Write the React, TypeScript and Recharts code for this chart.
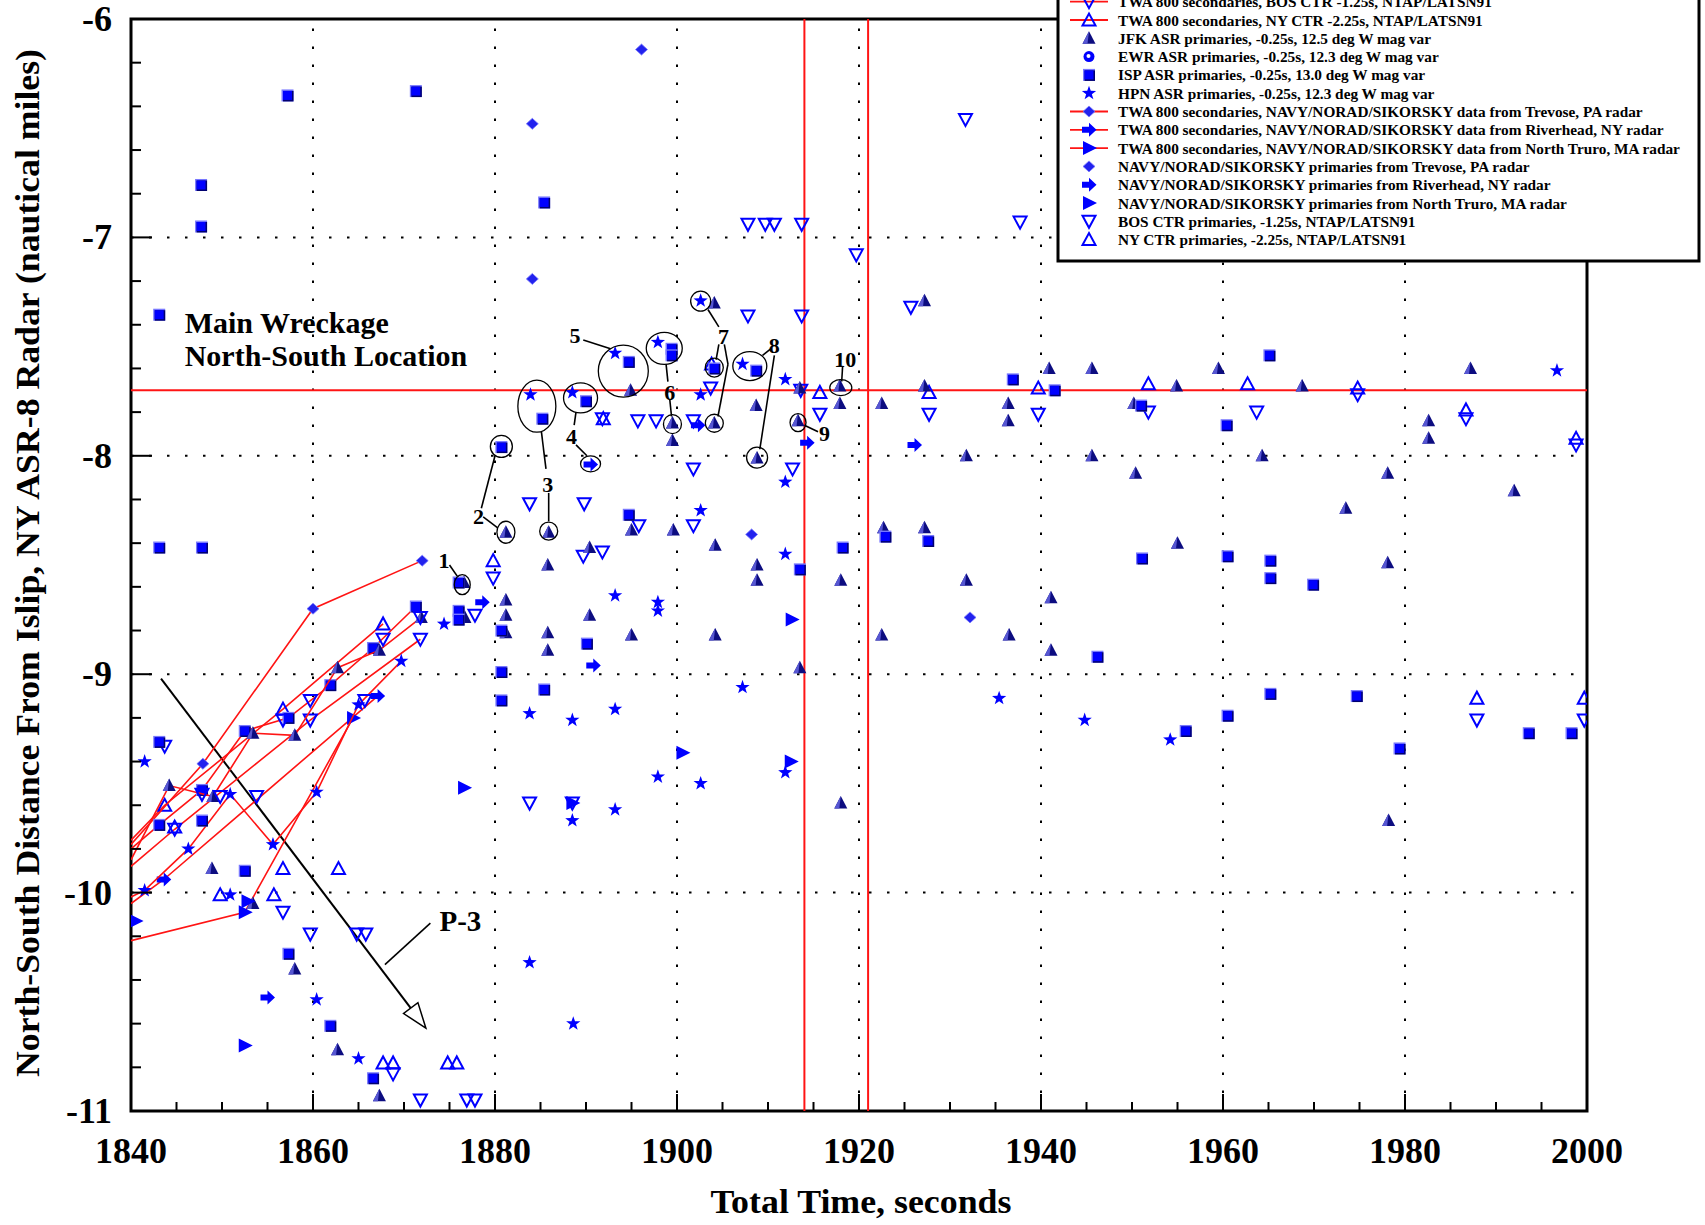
import React from 'react';
import { ScatterChart, Scatter, XAxis, YAxis, ReferenceLine, ReferenceArea } from 'recharts';

const W = 1705;
const H = 1225;
const SERIF = "'Liberation Serif', 'Times New Roman', Times, serif";
const BLUE = '#0000ff';
const RED = '#ff1414';

// axes
const xMajor = [1840, 1860, 1880, 1900, 1920, 1940, 1960, 1980, 2000];
const yMajor = [-11, -10, -9, -8, -7, -6];
const xTicks = Array.from({ length: 33 }, (_, i) => 1840 + i * 5);
const yTicks = Array.from({ length: 26 }, (_, i) => Math.round((-11 + i * 0.2) * 10) / 10);

// red reference lines (time of events, wreckage N-S location)
const redTimes = [1914.0, 1921.0];
const wreckageNS = -7.7;

// primaries: [total time s, N-S distance nm]
const jfkPrimaries: [number, number][] = [
  [1848.9, -9.89], [1853.4, -10.05], [1858.0, -10.35], [1862.7, -10.72], [1867.3, -10.93],
  [1876.6, -8.58], [1876.7, -8.74], [1881.2, -8.35], [1881.2, -8.66], [1881.2, -8.73], [1881.2, -8.81],
  [1885.8, -8.5], [1885.8, -8.81], [1885.8, -8.89], [1885.9, -8.35],
  [1890.4, -8.42], [1890.4, -8.73],
  [1894.9, -7.7], [1895.0, -8.34], [1895.0, -8.82],
  [1899.5, -7.85], [1899.5, -7.93], [1899.6, -8.34],
  [1904.1, -7.3], [1904.1, -7.85], [1904.2, -8.41], [1904.2, -8.82],
  [1908.7, -7.77], [1908.8, -8.01], [1908.8, -8.5], [1908.8, -8.57],
  [1913.3, -7.84], [1913.5, -7.69], [1913.5, -8.97],
  [1917.9, -7.68], [1917.9, -7.76], [1918.0, -8.57], [1918.0, -9.59],
  [1922.5, -7.76], [1922.7, -8.33], [1922.5, -8.82],
  [1927.2, -7.29], [1927.2, -7.68], [1927.2, -8.33],
  [1931.8, -8.0], [1931.8, -8.57],
  [1936.4, -7.76], [1936.4, -7.84], [1936.5, -8.82],
  [1940.9, -7.6], [1941.1, -8.65], [1941.1, -8.89],
  [1945.6, -7.6], [1945.6, -8.0],
  [1950.2, -7.76], [1950.4, -8.08],
  [1954.9, -7.68], [1955.0, -8.4],
  [1959.5, -7.6], [1964.3, -8.0], [1968.7, -7.68], [1973.5, -8.24],
  [1978.1, -8.08], [1978.1, -8.49], [1978.2, -9.67],
  [1982.6, -7.84], [1982.6, -7.92], [1987.2, -7.6], [1992.0, -8.16],
];

const ispPrimaries: [number, number][] = [
  [1843.1, -8.42], [1847.8, -8.42], [1843.1, -9.31], [1847.8, -9.67], [1852.5, -9.9],
  [1857.3, -10.28], [1861.9, -10.61], [1866.6, -10.85],
  [1847.7, -6.76], [1847.7, -6.95], [1857.2, -6.35], [1871.3, -6.33], [1885.4, -6.84],
  [1876.0, -8.58], [1876.0, -8.71], [1876.0, -8.75],
  [1880.7, -7.96], [1880.7, -8.8], [1880.7, -8.99], [1880.7, -9.12],
  [1885.2, -7.83], [1885.4, -9.07], [1890.0, -7.75], [1890.1, -8.86],
  [1894.7, -7.57], [1894.7, -8.27], [1899.4, -7.51], [1899.4, -7.54],
  [1904.1, -7.6], [1908.7, -7.61], [1913.5, -8.52], [1918.2, -8.42],
  [1922.9, -8.37], [1927.6, -8.39], [1936.9, -7.65], [1941.5, -7.7],
  [1946.2, -8.92], [1951.0, -7.77], [1951.1, -8.47], [1955.9, -9.26],
  [1960.4, -7.86], [1960.5, -8.46], [1960.5, -9.19],
  [1965.1, -7.54], [1965.2, -8.48], [1965.2, -8.56], [1965.2, -9.09],
  [1969.9, -8.59], [1974.7, -9.1], [1979.4, -9.34], [1993.6, -9.27], [1998.3, -9.27],
];

const hpnPrimaries: [number, number][] = [
  [1841.5, -9.4], [1850.9, -10.01], [1860.4, -10.49], [1865.0, -10.76], [1874.4, -8.77],
  [1883.8, -9.18], [1883.8, -10.32], [1883.9, -7.72],
  [1888.5, -7.71], [1888.5, -9.21], [1888.5, -9.67], [1888.6, -10.6],
  [1893.2, -7.53], [1893.2, -8.64], [1893.2, -9.16], [1893.2, -9.62],
  [1897.9, -7.48], [1897.9, -8.67], [1897.9, -8.71], [1897.9, -9.47],
  [1902.6, -7.29], [1902.6, -7.72], [1902.6, -8.25], [1902.6, -9.5],
  [1907.2, -7.58], [1907.2, -9.06],
  [1911.9, -7.65], [1911.9, -8.12], [1911.9, -8.45], [1911.9, -9.45],
  [1935.4, -9.11], [1944.8, -9.21], [1954.2, -9.3], [1996.7, -7.61],
];

const trevosePrimaries: [number, number][] = [
  [1884.1, -6.48], [1884.1, -7.19], [1896.1, -6.14], [1908.2, -8.36], [1932.2, -8.74],
];

const riverheadPrimaries: [number, number][] = [
  [1855.0, -10.48], [1878.6, -8.67], [1890.5, -8.04], [1890.8, -8.96],
  [1902.3, -7.86], [1914.3, -7.94], [1926.1, -7.95],
];

const truroPrimaries: [number, number][] = [
  [1840.5, -10.13], [1852.5, -10.7], [1852.8, -10.04], [1876.6, -9.52], [1888.5, -9.59],
  [1900.6, -9.36], [1912.5, -9.4], [1912.6, -8.75],
];

const bosPrimaries: [number, number][] = [
  [1843.7, -9.33], [1847.8, -9.55], [1849.8, -9.56], [1853.8, -9.56], [1856.7, -9.21],
  [1859.7, -9.12], [1865.7, -9.12], [1867.7, -8.84], [1871.8, -8.74],
  [1856.7, -10.09], [1859.7, -10.19], [1864.8, -10.19], [1865.8, -10.19],
  [1868.8, -10.83], [1871.8, -10.95], [1876.9, -10.95], [1877.8, -10.95],
  [1877.8, -8.73], [1879.8, -8.56], [1883.8, -8.22], [1883.8, -9.59], [1888.5, -9.59],
  [1889.7, -8.46], [1889.8, -8.22], [1891.8, -7.83], [1891.8, -8.44],
  [1895.7, -7.84], [1895.8, -8.32], [1897.7, -7.84],
  [1901.8, -7.84], [1901.8, -8.06], [1901.8, -8.32], [1903.7, -7.69],
  [1907.8, -6.94], [1907.8, -7.36], [1909.7, -6.94], [1910.7, -6.94],
  [1912.7, -8.06], [1913.6, -7.7], [1913.7, -6.94], [1913.7, -7.36],
  [1915.7, -7.81], [1919.7, -7.08], [1925.7, -7.32], [1927.7, -7.81],
  [1931.7, -6.46], [1937.7, -6.93], [1939.7, -7.81], [1951.8, -7.8],
  [1963.7, -7.8], [1974.8, -7.72], [1986.7, -7.83], [1987.9, -9.21],
  [1998.8, -7.95], [1999.7, -9.21],
];

const nyPrimaries: [number, number][] = [
  [1844.8, -9.7], [1849.8, -10.01], [1855.7, -10.01], [1856.7, -9.89], [1862.8, -9.89],
  [1867.7, -10.78], [1868.8, -10.78], [1874.8, -10.78], [1875.8, -10.78],
  [1879.8, -8.48], [1891.9, -7.83], [1903.8, -7.58], [1915.7, -7.71],
  [1927.7, -7.71], [1939.7, -7.69], [1951.8, -7.67], [1962.7, -7.67],
  [1974.8, -7.69], [1986.7, -7.79], [1987.9, -9.11], [1998.8, -7.92], [1999.7, -9.11],
];

// TWA 800 secondary tracks (first point is where the track leaves the left frame)
const trevoseTrack: [number, number][] = [[1840, -9.78], [1847.9, -9.41], [1860.0, -8.7], [1872.0, -8.48]];
const ispTrack: [number, number][] = [
  [1840, -9.8], [1843.1, -9.69], [1847.8, -9.53], [1852.5, -9.26], [1857.3, -9.2],
  [1861.9, -9.05], [1866.6, -8.88], [1871.3, -8.69],
];
const jfkTrack: [number, number][] = [
  [1840, -9.85], [1844.2, -9.51], [1849.0, -9.56], [1853.4, -9.27], [1858.0, -9.28],
  [1862.7, -8.97], [1867.3, -8.89], [1871.9, -8.74],
];
const nyTrack: [number, number][] = [[1840, -9.76], [1843.7, -9.6], [1856.7, -9.16], [1867.7, -8.77]];
const bosTrack: [number, number][] = [[1840, -9.88], [1844.8, -9.71], [1859.7, -9.21], [1871.8, -8.84]];
const hpnTrack: [number, number][] = [
  [1840, -10.02], [1841.5, -9.99], [1846.3, -9.8], [1850.9, -9.55], [1855.6, -9.78],
  [1860.4, -9.54], [1865.0, -9.14], [1869.7, -8.94],
];
const riverheadTrack: [number, number][] = [[1840, -10.05], [1843.6, -9.94], [1867.1, -9.1]];
const truroTrack: [number, number][] = [[1840, -10.22], [1852.5, -10.09], [1864.4, -9.2]];

// annotations
const ringMarks = [
  { t: 1876.4, v: -8.59, rx: 8, ry: 10 },
  { t: 1880.7, v: -7.957, rx: 11, ry: 11 },
  { t: 1881.2, v: -8.35, rx: 9, ry: 11 },
  { t: 1884.6, v: -7.773, rx: 19, ry: 26 },
  { t: 1885.9, v: -8.345, rx: 9, ry: 9 },
  { t: 1889.4, v: -7.735, rx: 17, ry: 15 },
  { t: 1890.5, v: -8.037, rx: 10, ry: 8 },
  { t: 1894.1, v: -7.612, rx: 25, ry: 26 },
  { t: 1898.6, v: -7.508, rx: 18, ry: 16 },
  { t: 1899.5, v: -7.855, rx: 9, ry: 9.5 },
  { t: 1902.6, v: -7.292, rx: 10, ry: 10 },
  { t: 1904.1, v: -7.596, rx: 9, ry: 9.5 },
  { t: 1904.1, v: -7.851, rx: 9, ry: 9 },
  { t: 1908.0, v: -7.589, rx: 17, ry: 14.5 },
  { t: 1908.8, v: -8.008, rx: 10.5, ry: 10.5 },
  { t: 1913.3, v: -7.848, rx: 8, ry: 9 },
  { t: 1918.0, v: -7.688, rx: 11, ry: 8 },
];

const leaders: [number, number, number, number][] = [
  [1875.0, -8.5, 1876.0, -8.56],
  [1878.5, -8.24, 1880.0, -8.0],
  [1878.7, -8.28, 1880.3, -8.33],
  [1885.1, -7.89, 1885.6, -8.06],
  [1885.9, -8.17, 1885.9, -8.3],
  [1888.9, -7.8, 1888.7, -7.86],
  [1888.9, -7.95, 1890.1, -8.0],
  [1889.7, -7.47, 1892.7, -7.51],
  [1898.8, -7.58, 1899.0, -7.66],
  [1899.2, -7.74, 1899.4, -7.82],
  [1903.4, -7.33, 1904.6, -7.41],
  [1904.6, -7.49, 1904.3, -7.56],
  [1905.2, -7.49, 1905.6, -7.58],
  [1905.6, -7.58, 1904.5, -7.82],
  [1909.4, -7.54, 1910.3, -7.51],
  [1910.7, -7.54, 1909.1, -7.97],
  [1914.0, -7.86, 1915.5, -7.89],
  [1918.2, -7.59, 1918.1, -7.66],
  [1867.9, -10.33, 1872.9, -10.14],
];

const numberLabels = [
  { t: 1874.4, v: -8.48, text: '1' },
  { t: 1878.2, v: -8.28, text: '2' },
  { t: 1885.8, v: -8.13, text: '3' },
  { t: 1888.4, v: -7.91, text: '4' },
  { t: 1888.8, v: -7.45, text: '5' },
  { t: 1899.2, v: -7.71, text: '6' },
  { t: 1905.1, v: -7.455, text: '7' },
  { t: 1910.7, v: -7.497, text: '8' },
  { t: 1916.2, v: -7.9, text: '9' },
  { t: 1918.5, v: -7.558, text: '10' },
];

const p3Label = [{ t: 1876.2, v: -10.13, text: 'P-3' }];
const p3Arrow = [{ x: 1843.3, y: -9.02 }, { x: 1872.4, y: -10.62 }];
const wreckageKey = [{ t: 1843.1, v: -7.354 }];
const wreckageText = [
  { t: 1845.9, v: -7.389, text: 'Main Wreckage' },
  { t: 1845.9, v: -7.542, text: 'North-South Location' },
];

type Kind = 'tri' | 'square' | 'star' | 'diamond' | 'arrow' | 'rtri' | 'dtri' | 'utri' | 'circle';

const legendRows: { label: string; kind: Kind; line: boolean }[] = [
  { label: 'TWA 800 secondaries, BOS CTR -1.25s, NTAP/LATSN91', kind: 'dtri', line: true },
  { label: 'TWA 800 secondaries, NY CTR -2.25s, NTAP/LATSN91', kind: 'utri', line: true },
  { label: 'JFK ASR primaries, -0.25s, 12.5 deg W mag var', kind: 'tri', line: false },
  { label: 'EWR ASR primaries, -0.25s, 12.3 deg W mag var', kind: 'circle', line: false },
  { label: 'ISP ASR primaries, -0.25s, 13.0 deg W mag var', kind: 'square', line: false },
  { label: 'HPN ASR primaries, -0.25s, 12.3 deg W mag var', kind: 'star', line: false },
  { label: 'TWA 800 secondaries, NAVY/NORAD/SIKORSKY data from Trevose, PA radar', kind: 'diamond', line: true },
  { label: 'TWA 800 secondaries, NAVY/NORAD/SIKORSKY data from Riverhead, NY radar', kind: 'arrow', line: true },
  { label: 'TWA 800 secondaries, NAVY/NORAD/SIKORSKY data from North Truro, MA radar', kind: 'rtri', line: true },
  { label: 'NAVY/NORAD/SIKORSKY primaries from Trevose, PA radar', kind: 'diamond', line: false },
  { label: 'NAVY/NORAD/SIKORSKY primaries from Riverhead, NY radar', kind: 'arrow', line: false },
  { label: 'NAVY/NORAD/SIKORSKY primaries from North Truro, MA radar', kind: 'rtri', line: false },
  { label: 'BOS CTR primaries, -1.25s, NTAP/LATSN91', kind: 'dtri', line: false },
  { label: 'NY CTR primaries, -2.25s, NTAP/LATSN91', kind: 'utri', line: false },
];

const toPts = (a: [number, number][]) => a.map(([t, v]) => ({ t, v }));

function starPoints(cx: number, cy: number, R: number, r: number) {
  const pts: string[] = [];
  for (let i = 0; i < 10; i++) {
    const a = -Math.PI / 2 + (i * Math.PI) / 5;
    const rad = i % 2 === 0 ? R : r;
    pts.push(`${cx + rad * Math.cos(a)},${cy + rad * Math.sin(a)}`);
  }
  return pts.join(' ');
}

const Marker = ({ kind, cx, cy }: { kind: Kind; cx: number; cy: number }) => {
  switch (kind) {
    case 'tri':
      return (
        <g>
          <polygon points={`${cx},${cy - 7} ${cx - 6.5},${cy + 5.5} ${cx + 6.5},${cy + 5.5}`} fill="#0c0c80" />
          <polygon points={`${cx},${cy - 7} ${cx - 6.5},${cy + 5.5} ${cx - 1.5},${cy + 5.5}`} fill="#5656d2" />
        </g>
      );
    case 'square':
      return (
        <g>
          <rect x={cx - 6} y={cy - 6} width={12} height={12} fill="#7878ff" />
          <rect x={cx - 4.5} y={cy - 4.5} width={10.5} height={10.5} fill="#00006e" />
          <rect x={cx - 4.5} y={cy - 4.5} width={9} height={9} fill={BLUE} />
        </g>
      );
    case 'star':
      return <polygon points={starPoints(cx, cy, 7.5, 3)} fill={BLUE} />;
    case 'diamond':
      return <polygon points={`${cx},${cy - 5.5} ${cx + 6},${cy} ${cx},${cy + 5.5} ${cx - 6},${cy}`} fill="#2222ee" stroke="#7a7aff" strokeWidth={0.8} />;
    case 'arrow':
      return (
        <polygon
          points={`${cx - 7},${cy - 3} ${cx},${cy - 3} ${cx},${cy - 7} ${cx + 7.5},${cy} ${cx},${cy + 7} ${cx},${cy + 3} ${cx - 7},${cy + 3}`}
          fill={BLUE}
        />
      );
    case 'rtri':
      return <polygon points={`${cx - 6},${cy - 7} ${cx + 8},${cy} ${cx - 6},${cy + 7}`} fill={BLUE} />;
    case 'dtri':
      return <polygon points={`${cx - 6.5},${cy - 5.5} ${cx + 6.5},${cy - 5.5} ${cx},${cy + 6.5}`} fill="none" stroke={BLUE} strokeWidth={2} />;
    case 'utri':
      return <polygon points={`${cx - 6.5},${cy + 5.5} ${cx + 6.5},${cy + 5.5} ${cx},${cy - 6.5}`} fill="none" stroke={BLUE} strokeWidth={2} />;
    case 'circle':
      return (
        <g>
          <circle cx={cx} cy={cy} r={5.5} fill={BLUE} />
          <circle cx={cx - 0.5} cy={cy - 0.5} r={2} fill="#fff" />
        </g>
      );
    default:
      return null;
  }
};

const XTick = (p: any) => {
  const val = p.payload.value;
  const major = xMajor.includes(val);
  return (
    <g>
      <line x1={p.x} x2={p.x} y1={p.y} y2={p.y - (major ? 17 : 9)} stroke="#000" strokeWidth={2} />
      {major && (
        <text x={p.x} y={p.y + 52} textAnchor="middle" fontFamily={SERIF} fontWeight="bold" fontSize={36}>
          {val}
        </text>
      )}
    </g>
  );
};

const YTick = (p: any) => {
  const val = p.payload.value;
  const major = Number.isInteger(val);
  return (
    <g>
      <line x1={p.x} x2={p.x + (major ? 21 : 10)} y1={p.y} y2={p.y} stroke="#000" strokeWidth={2} />
      {major && (
        <text x={p.x - 19} y={p.y + 12} textAnchor="end" fontFamily={SERIF} fontWeight="bold" fontSize={36}>
          {val}
        </text>
      )}
    </g>
  );
};

const ArrowShape = (p: any) => {
  const { x1, y1, x2, y2 } = p;
  const len = Math.hypot(x2 - x1, y2 - y1);
  const ux = (x2 - x1) / len;
  const uy = (y2 - y1) / len;
  const hl = 25;
  const hw = 9;
  const bx = x2 - ux * hl;
  const by = y2 - uy * hl;
  return (
    <g>
      <line x1={x1} y1={y1} x2={bx} y2={by} stroke="#000" strokeWidth={2} />
      <polygon
        points={`${x2},${y2} ${bx - uy * hw},${by + ux * hw} ${bx + uy * hw},${by - ux * hw}`}
        fill="#fff"
        stroke="#000"
        strokeWidth={1.5}
      />
    </g>
  );
};

const tracks: { kind: Kind; data: [number, number][] }[] = [
  { kind: 'dtri', data: bosTrack },
  { kind: 'utri', data: nyTrack },
  { kind: 'diamond', data: trevoseTrack },
  { kind: 'arrow', data: riverheadTrack },
  { kind: 'rtri', data: truroTrack },
  { kind: 'square', data: ispTrack },
  { kind: 'tri', data: jfkTrack },
  { kind: 'star', data: hpnTrack },
];

const primaries: { kind: Kind; data: [number, number][] }[] = [
  { kind: 'dtri', data: bosPrimaries },
  { kind: 'utri', data: nyPrimaries },
  { kind: 'tri', data: jfkPrimaries },
  { kind: 'square', data: ispPrimaries },
  { kind: 'star', data: hpnPrimaries },
  { kind: 'diamond', data: trevosePrimaries },
  { kind: 'arrow', data: riverheadPrimaries },
  { kind: 'rtri', data: truroPrimaries },
];

const LegendBox = () => (
  <g>
    <rect x={1058} y={-12} width={641} height={273} fill="#fff" stroke="#000" strokeWidth={3} />
    {legendRows.map((r, i) => {
      const y = 1.7 + 18.3 * i;
      return (
        <g key={r.label}>
          {r.line && <line x1={1070} x2={1108} y1={y} y2={y} stroke={RED} strokeWidth={1.8} />}
          <Marker kind={r.kind} cx={1089} cy={y} />
          <text x={1118} y={y} dominantBaseline="central" fontFamily={SERIF} fontWeight="bold" fontSize={15.3}>
            {r.label}
          </text>
        </g>
      );
    })}
  </g>
);

export default function App() {
  return (
    <div style={{ position: 'absolute', left: 0, top: 0, width: W, height: H, background: '#fff', overflow: 'hidden' }}>
      <ScatterChart width={W} height={H} margin={{ top: 19, right: 118, bottom: 0, left: 0 }}>
        <XAxis
          type="number"
          dataKey="t"
          domain={[1840, 2000]}
          allowDataOverflow
          ticks={xTicks}
          interval={0}
          tickSize={0}
          tickMargin={0}
          axisLine={false}
          tickLine={false}
          height={114}
          tick={(p: any) => <XTick {...p} />}
        />
        <YAxis
          type="number"
          dataKey="v"
          domain={[-11, -6]}
          allowDataOverflow
          ticks={yTicks}
          interval={0}
          tickSize={0}
          tickMargin={0}
          axisLine={false}
          tickLine={false}
          width={131}
          tick={(p: any) => <YTick {...p} />}
        />
        {xMajor.slice(1, -1).map((x) => (
          <ReferenceLine key={'gx' + x} x={x} stroke="#000" strokeWidth={2} strokeDasharray="2.5 15.5" />
        ))}
        {yMajor.slice(1, -1).map((y) => (
          <ReferenceLine key={'gy' + y} y={y} stroke="#000" strokeWidth={2} strokeDasharray="2.5 15.5" />
        ))}
        {redTimes.map((x) => (
          <ReferenceLine key={'rt' + x} x={x} stroke={RED} strokeWidth={2} />
        ))}
        <ReferenceLine y={wreckageNS} stroke={RED} strokeWidth={2} />

        {tracks.map((s, i) => (
          <Scatter
            key={'trk' + i}
            data={toPts(s.data)}
            line={{ stroke: RED, strokeWidth: 1.6 }}
            lineType="joint"
            isAnimationActive={false}
            shape={(p: any) =>
              p.payload && p.payload.t <= 1840 ? <g /> : <Marker kind={s.kind} cx={p.cx} cy={p.cy} />
            }
          />
        ))}
        {primaries.map((s, i) => (
          <Scatter
            key={'pri' + i}
            data={toPts(s.data)}
            isAnimationActive={false}
            shape={(p: any) => <Marker kind={s.kind} cx={p.cx} cy={p.cy} />}
          />
        ))}

        <Scatter
          data={ringMarks}
          isAnimationActive={false}
          shape={(p: any) => (
            <ellipse cx={p.cx} cy={p.cy} rx={p.payload.rx} ry={p.payload.ry} fill="none" stroke="#000" strokeWidth={1.3} />
          )}
        />
        {leaders.map(([t1, v1, t2, v2], i) => (
          <ReferenceLine
            key={'ld' + i}
            segment={[{ x: t1, y: v1 }, { x: t2, y: v2 }]}
            stroke="#000"
            strokeWidth={1.6}
          />
        ))}
        <ReferenceLine segment={p3Arrow} shape={(p: any) => <ArrowShape {...p} />} />
        <Scatter
          data={numberLabels}
          isAnimationActive={false}
          shape={(p: any) => (
            <text x={p.cx} y={p.cy} textAnchor="middle" dominantBaseline="central" fontFamily={SERIF} fontWeight="bold" fontSize={22}>
              {p.payload.text}
            </text>
          )}
        />
        <Scatter
          data={p3Label}
          isAnimationActive={false}
          shape={(p: any) => (
            <text x={p.cx} y={p.cy} textAnchor="middle" dominantBaseline="central" fontFamily={SERIF} fontWeight="bold" fontSize={29}>
              {p.payload.text}
            </text>
          )}
        />
        <Scatter
          data={wreckageKey}
          isAnimationActive={false}
          shape={(p: any) => <Marker kind="square" cx={p.cx} cy={p.cy} />}
        />
        <Scatter
          data={wreckageText}
          isAnimationActive={false}
          shape={(p: any) => (
            <text x={p.cx} y={p.cy} dominantBaseline="central" fontFamily={SERIF} fontWeight="bold" fontSize={30}>
              {p.payload.text}
            </text>
          )}
        />
        <ReferenceArea x1={1840} x2={2000} y1={-11} y2={-6} fill="none" stroke="#000" strokeWidth={3} />
      </ScatterChart>

      <svg width={W} height={H} style={{ position: 'absolute', left: 0, top: 0, pointerEvents: 'none' }}>
        <LegendBox />
        <text
          x={861}
          y={1213}
          textAnchor="middle"
          fontFamily={SERIF}
          fontWeight="bold"
          fontSize={34}
          textLength={301}
          lengthAdjust="spacingAndGlyphs"
        >
          Total Time, seconds
        </text>
        <text
          transform="translate(39, 563) rotate(-90)"
          textAnchor="middle"
          fontFamily={SERIF}
          fontWeight="bold"
          fontSize={33}
          textLength={1028}
          lengthAdjust="spacingAndGlyphs"
        >
          North-South Distance From Islip, NY ASR-8 Radar (nautical miles)
        </text>
      </svg>
    </div>
  );
}
